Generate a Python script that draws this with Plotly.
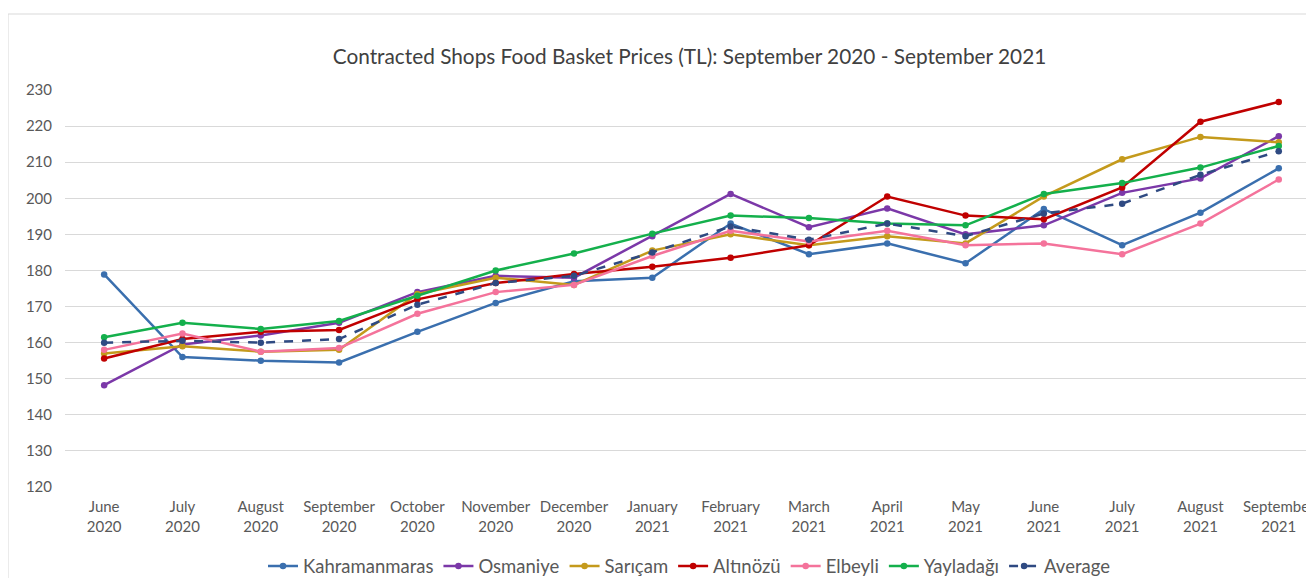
import plotly.graph_objects as go

months = ["June<br>2020", "July<br>2020", "August<br>2020", "September<br>2020", "October<br>2020",
          "November<br>2020", "December<br>2020", "January<br>2021", "February<br>2021", "March<br>2021",
          "April<br>2021", "May<br>2021", "June<br>2021", "July<br>2021", "August<br>2021", "September<br>2021"]

kahramanmaras = [178.9, 156.0, 155.0, 154.5, 163.0, 171.0, 177.0, 178.0, 193.0, 184.5, 187.5, 182.0, 197.0, 187.0, 196.0, 208.3]
osmaniye      = [148.2, 159.5, 162.0, 165.5, 174.0, 178.5, 178.0, 189.5, 201.2, 192.0, 197.2, 190.0, 192.5, 201.5, 205.5, 217.2]
saricam       = [157.0, 159.0, 157.5, 158.0, 173.5, 178.0, 176.0, 185.5, 190.0, 187.0, 189.5, 187.5, 200.5, 210.8, 217.0, 215.5]
altinozu      = [155.6, 161.0, 163.0, 163.5, 172.0, 176.5, 179.0, 181.0, 183.5, 187.0, 200.5, 195.2, 194.2, 203.0, 221.2, 226.7]
elbeyli       = [158.0, 162.5, 157.5, 158.5, 168.0, 174.0, 176.0, 184.0, 191.0, 188.0, 191.0, 187.0, 187.5, 184.5, 193.0, 205.2]
yayladagi     = [161.5, 165.5, 163.8, 166.0, 173.0, 180.0, 184.7, 190.2, 195.2, 194.5, 193.0, 192.5, 201.2, 204.2, 208.5, 214.5]
average       = [160.0, 160.5, 160.0, 161.0, 170.5, 176.5, 178.5, 185.0, 192.2, 188.5, 193.0, 189.5, 195.8, 198.5, 206.5, 213.0]

series = [
    ("Kahramanmaras", kahramanmaras, "#3A6FAE", "solid"),
    ("Osmaniye", osmaniye, "#7B38A8", "solid"),
    ("Sarıçam", saricam, "#C49A1C", "solid"),
    ("Altınözü", altinozu, "#C00000", "solid"),
    ("Elbeyli", elbeyli, "#F4739B", "solid"),
    ("Yayladağı", yayladagi, "#14B04C", "solid"),
    ("Average", average, "#2F4A82", "dash"),
]

fig = go.Figure()
for name, vals, col, dash in series:
    fig.add_trace(go.Scatter(
        x=months, y=vals, name=name, mode="lines+markers",
        line=dict(color=col, width=2.5, dash=dash),
        marker=dict(color=col, size=6.5, symbol="circle"),
    ))

fig.update_layout(
    width=1306, height=570,
    margin=dict(l=57, r=0, t=82, b=91, autoexpand=False),
    paper_bgcolor="white", plot_bgcolor="white",
    font=dict(family="Lato, Open Sans, sans-serif", color="#595959"),
    title=dict(text="Contracted Shops Food Basket Prices (TL): September 2020 - September 2021",
               x=0.5, xanchor="center", xref="paper", y=0.914, yanchor="middle",
               font=dict(size=20.8, color="#404040", family="Lato, Open Sans, sans-serif")),
    showlegend=True,
    legend=dict(orientation="h", x=0.5, xanchor="center", y=-0.2, yanchor="middle",
                font=dict(size=18.5, color="#595959"), traceorder="normal",
                itemwidth=30, tracegroupgap=0),
    shapes=[
        dict(type="line", xref="paper", yref="paper", x0=-0.0456, x1=1.01, y0=1.1914, y1=1.1914,
             line=dict(color="#D9D9D9", width=1)),
        dict(type="line", xref="paper", yref="paper", x0=-0.0456, x1=-0.0456, y0=1.1914, y1=-0.3,
             line=dict(color="#D9D9D9", width=1)),
    ],
)
fig.update_xaxes(type="category", range=[-0.5, 15.45], showgrid=False, showline=False,
                 ticks="", automargin=False,
                 tickfont=dict(size=15, color="#595959"), ticklabelstandoff=9)
fig.update_yaxes(range=[120, 230], dtick=10, showgrid=True, gridcolor="#D9D9D9", gridwidth=1,
                 zeroline=False, showline=False, ticks="", automargin=False,
                 tickfont=dict(size=15, color="#595959"), ticklabelstandoff=12)

fig.write_html("out.html")
